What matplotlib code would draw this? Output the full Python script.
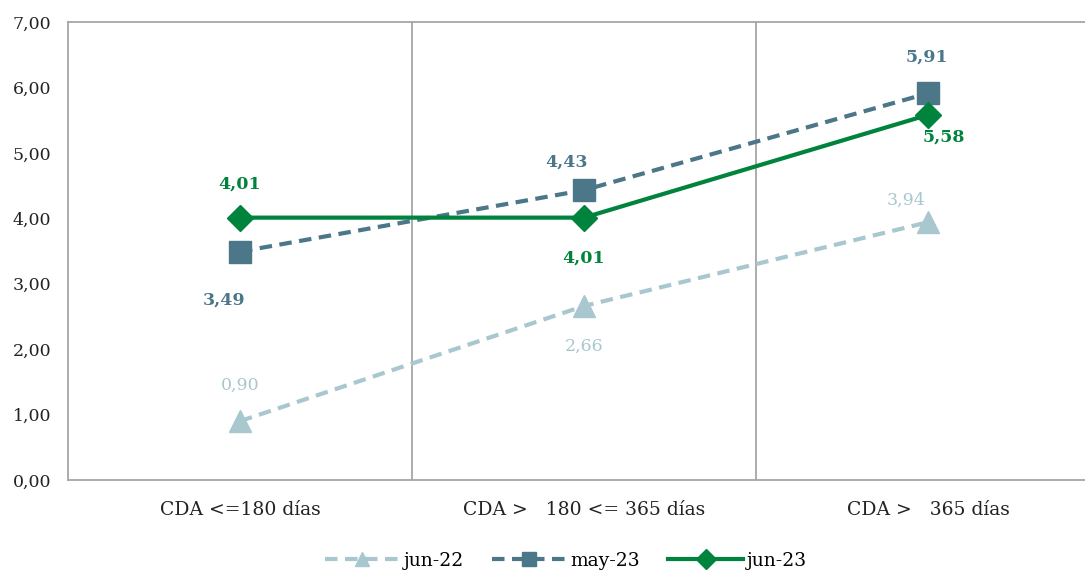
import matplotlib.pyplot as plt

plt.rcParams['font.family'] = ['DejaVu Serif']

categorias = ['CDA <=180 días', 'CDA >   180 <= 365 días', 'CDA >   365 días']
jun22 = [0.90, 2.66, 3.94]
may23 = [3.49, 4.43, 5.91]
jun23 = [4.01, 4.01, 5.58]

c_jun22 = '#A8C7CF'
c_may23 = '#4B7789'
c_jun23 = '#00843D'

fig = plt.figure(figsize=(10.85, 5.73), dpi=100)
ax = fig.add_axes([68 / 1085, 1 - 480 / 573, 1032 / 1085, 458 / 573])

x = list(range(len(categorias)))
ax.plot(x, jun22, color=c_jun22, lw=3, ls=(0, (3, 1.8)), marker='^', ms=16,
        label='jun-22', zorder=3)
ax.plot(x, may23, color=c_may23, lw=3, ls=(0, (3, 1.8)), marker='s', ms=16,
        label='may-23', zorder=4)
ax.plot(x, jun23, color=c_jun23, lw=3, marker='D', ms=13,
        label='jun-23', zorder=5)

def fmt(v):
    return f'{v:.2f}'.replace('.', ',')

# desplazamientos de etiquetas en pixeles (dx, dy)
off_jun22 = [(0, 36), (0, -40), (-22, 22)]
off_may23 = [(-16, -48), (-17, 28), (-1, 36)]
off_jun23 = [(0, 34), (0, -40), (16, -22)]

for serie, offs, col, peso in [(jun22, off_jun22, c_jun22, 'normal'),
                               (may23, off_may23, c_may23, 'bold'),
                               (jun23, off_jun23, c_jun23, 'bold')]:
    for xi, v, (dx, dy) in zip(x, serie, offs):
        ax.annotate(fmt(v), (xi, v), xytext=(dx, dy), textcoords='offset pixels',
                    ha='center', va='center', color=col, fontsize=12.5,
                    fontweight=peso)

ax.set_xlim(-0.5, 2.5)
ax.set_ylim(0, 7)
ax.set_yticks(range(0, 8))
ax.set_yticklabels([f'{v},00' for v in range(0, 8)])
ax.set_xticks(x)
ax.set_xticklabels(categorias)
ax.tick_params(axis='both', length=0, colors='#222222')
ax.tick_params(axis='y', pad=12, labelsize=12.5)
ax.tick_params(axis='x', pad=15, labelsize=13.5)

for xv in [0.5, 1.5]:
    ax.axvline(xv, color='#A6A6A6', lw=1.3, zorder=1)
for s in ax.spines.values():
    s.set_color('#A6A6A6')
    s.set_linewidth(1.3)
ax.spines['right'].set_visible(False)

leg = fig.legend(loc='center', bbox_to_anchor=(566 / 1085, 1 - 561 / 573), ncol=3,
                 frameon=False, fontsize=13.5, handlelength=4, columnspacing=1.5,
                 handletextpad=0.2)
for h in leg.legend_handles:
    h.set_markersize(10)

fig.savefig('out.png', dpi=100)
